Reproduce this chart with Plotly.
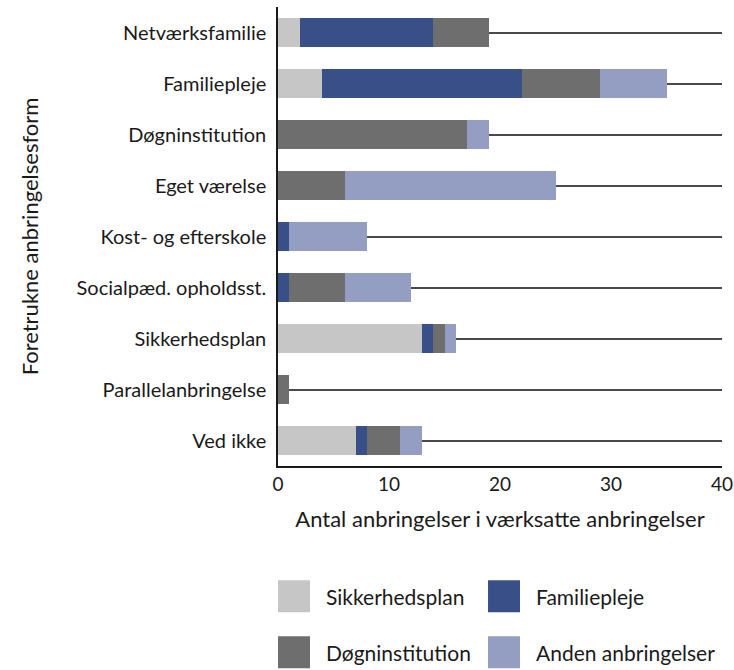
import plotly.graph_objects as go

categories = ["Netværksfamilie", "Familiepleje", "Døgninstitution", "Eget værelse",
              "Kost- og efterskole", "Socialpæd. opholdsst.", "Sikkerhedsplan",
              "Parallelanbringelse", "Ved ikke"]
sikkerhedsplan = [2, 4, 0, 0, 0, 0, 13, 0, 7]
familiepleje   = [12, 18, 0, 0, 1, 1, 1, 0, 1]
dognins        = [5, 7, 17, 6, 0, 5, 1, 1, 3]
anden          = [0, 6, 2, 19, 7, 6, 1, 0, 2]

series_names = ["Sikkerhedsplan", "Familiepleje", "Døgninstitution", "Anden anbringelser"]
series_vals = [sikkerhedsplan, familiepleje, dognins, anden]
colors = ["#c6c6c6", "#385087", "#6e6e6e", "#949dc2"]

x_ticks = [0, 10, 20, 30, 40]
FONT = "Lato"

fig = go.Figure()
for name, vals, col in zip(series_names, series_vals, colors):
    fig.add_trace(go.Bar(y=categories, x=vals, name=name, orientation="h",
                         marker=dict(color=col, line=dict(width=0)),
                         width=0.55, showlegend=False))

fig.update_layout(
    barmode="stack",
    width=734, height=670,
    margin=dict(l=278, r=12, t=7, b=204, autoexpand=False),
    plot_bgcolor="white", paper_bgcolor="white",
    font=dict(family=FONT, color="#1a1a1a", size=20),
    xaxis=dict(range=[0, 40], tickvals=x_ticks, showgrid=False,
               showline=True, linecolor="#1a1a1a", linewidth=1.5,
               ticks="", tickfont=dict(size=19, family=FONT),
               title=dict(text="Antal anbringelser i værksatte anbringelser",
                          font=dict(size=22, family=FONT), standoff=18),
               zeroline=False, automargin=False),
    yaxis=dict(categoryorder="array", categoryarray=categories[::-1],
               showgrid=True, gridcolor="#4a4a4a", gridwidth=1.5,
               showline=True, linecolor="#1a1a1a", linewidth=1.5,
               ticks="", ticklabelstandoff=6, automargin=False,
               tickfont=dict(size=20, family=FONT),
               title=dict(text="Foretrukne anbringelsesform",
                          font=dict(size=22, family=FONT), standoff=32)),
)

# Manual legend with large square swatches
legend_pos = [(0.0, -0.284), (0.473, -0.284), (0.0, -0.406), (0.473, -0.406)]
for (px, py), name, col in zip(legend_pos, series_names, colors):
    fig.add_shape(type="rect", xref="paper", yref="paper",
                  xsizemode="pixel", ysizemode="pixel",
                  xanchor=px, yanchor=py, x0=0, x1=32, y0=-16, y1=16,
                  fillcolor=col, line=dict(width=0))
    fig.add_annotation(xref="paper", yref="paper", x=px + 0.1036, y=py,
                       text=name, showarrow=False, xanchor="left", yanchor="middle",
                       font=dict(size=21, family=FONT, color="#1a1a1a"))

fig.write_html("out.html", config={"displayModeBar": False},
               post_script="document.body.style.margin='0';document.body.style.padding='0';")
